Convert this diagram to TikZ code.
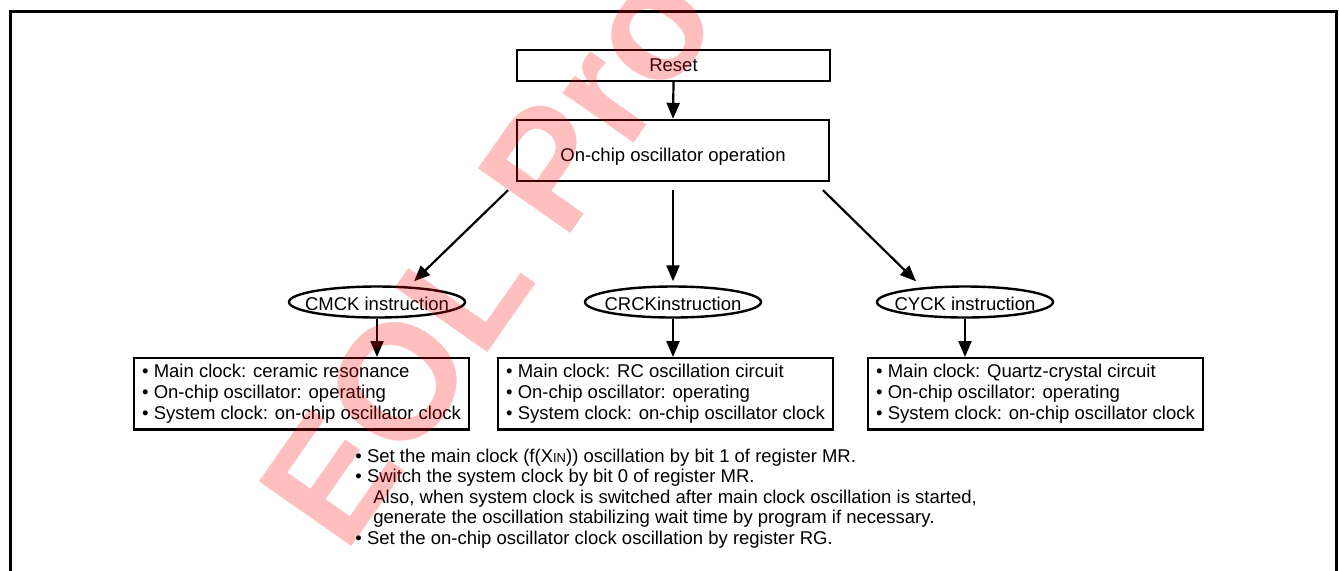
\documentclass[tikz,border=0pt]{standalone}
\usepackage{fontspec}
\setmainfont{Liberation Sans}
\usetikzlibrary{shapes.geometric,arrows.meta,calc}

\begin{document}
\begin{tikzpicture}[x=0.5pt,y=-0.5pt,font=\fontsize{9.25}{10.5}\selectfont,
  box/.style={draw,line width=1.2pt,inner xsep=4pt,inner ysep=3pt,align=left,anchor=north west,
    execute at begin node=\rule{0pt}{9.5pt}},
  oval/.style={draw,ellipse,line width=1.2pt,inner sep=0pt,minimum width=88pt,minimum height=15.5pt},
  arr/.style={line width=1.1pt,-{Triangle[length=8pt,width=6.5pt]}}]
\useasboundingbox (0,0) rectangle (1339,570);
\draw[line width=1.5pt] (10,575) -- (10,11) -- (1336,11) -- (1336,575);
% top of the flow
\node[draw,line width=1.2pt,inner sep=0pt,minimum width=156.5pt,minimum height=15.5pt] (reset) at (673.5,65.5) {Reset};
\node[draw,line width=1.2pt,inner sep=0pt,minimum width=156pt,minimum height=30.5pt] (osc) at (673,150.5) {};
\node (osctext) at (673,157) {On-chip oscillator operation};
\draw[arr] (reset.south) -- (osc.north);
% instructions
\node[oval] (cmck) at (377,302) {}; \node (cmcktext) at (377,304) {CMCK instruction};
\node[oval] (crck) at (673,302) {}; \node (crcktext) at (673,304) {CRCKinstruction};
\node[oval] (cyck) at (965,302) {}; \node (cycktext) at (965,304) {CYCK instruction};
\draw[arr] ($(osc.south)+(-165,8)$) -- ($(cmck.north)+(37,-4)$);
\draw[arr] ($(osc.south)+(0,8)$) -- ($(crck.north)+(0,-4)$);
\draw[arr] ($(osc.south)+(150,8)$) -- ($(cyck.north)+(-49,-4)$);
% resulting states
\node[box] (cmckbox) at (133,357) {\textbullet\ Main clock: ceramic resonance\\ \textbullet\ On-chip oscillator: operating\\ \textbullet\ System clock: on-chip oscillator clock};
\node[box] (crckbox) at (497,357) {\textbullet\ Main clock: RC oscillation circuit\\ \textbullet\ On-chip oscillator: operating\\ \textbullet\ System clock: on-chip oscillator clock};
\node[box] (cyckbox) at (867,357) {\textbullet\ Main clock: Quartz-crystal circuit\\ \textbullet\ On-chip oscillator: operating\\ \textbullet\ System clock: on-chip oscillator clock};
\draw[arr] (cmck.south) -- (cmck.south |- cmckbox.north);
\draw[arr] (crck.south) -- (crck.south |- crckbox.north);
\draw[arr] (cyck.south) -- (cyck.south |- cyckbox.north);
% notes
\node[anchor=north west,inner sep=0pt,align=left,font=\fontsize{9.25}{10.25}\selectfont] (notes) at (355,448.5)
 {\textbullet\ Set the main clock (f(X{\fontsize{6.5}{7}\selectfont IN})) oscillation by bit 1 of register MR.\\
  \textbullet\ Switch the system clock by bit 0 of register MR.\\
  \hspace*{9pt}Also, when system clock is switched after main clock oscillation is started,\\
  \hspace*{9pt}generate the oscillation stabilizing wait time by program if necessary.\\
  \textbullet\ Set the on-chip oscillator clock oscillation by register RG.};
% watermark
\begin{scope}
\clip (0,0) rectangle (1339,570);
\node[anchor=base west,rotate=55,inner sep=0pt,text=red,text opacity=0.25,font=\fontsize{82}{82}\selectfont\bfseries] (eol) at (345,556) {EOL Product};
\end{scope}
\end{tikzpicture}
\end{document}
